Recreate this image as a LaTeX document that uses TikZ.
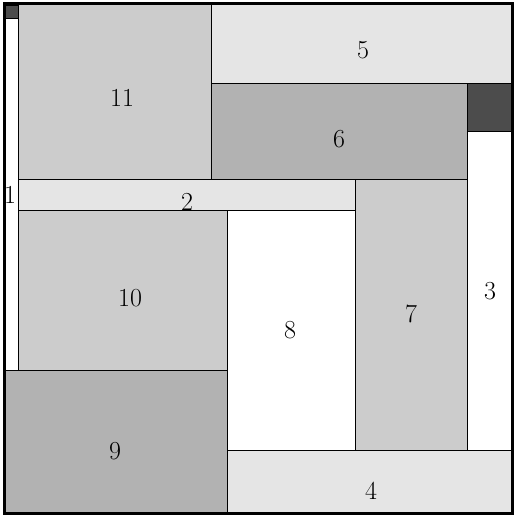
\documentclass[tikz,border=0pt]{standalone}
\begin{document}
\begin{tikzpicture}[x=1pt,y=-1pt,
  tile/.style={draw=black,line width=1pt},
  lt/.style={tile,fill=black!10},
  md/.style={tile,fill=black!20},
  dk/.style={tile,fill=black!30},
  vd/.style={tile,fill=black!70},
  wh/.style={tile,fill=white},
  lbl/.style={inner sep=0pt,font=\fontsize{26}{30}\selectfont}]
\useasboundingbox (0,0) rectangle (528,517);
% tiles
\path[md] (18.5,3.5) rectangle (211,179);
\path[lt] (211,3.5) rectangle (512.5,83);
\path[dk] (211,83) rectangle (467,179);
\path[wh] (467,131) rectangle (512.5,450);
\path[vd] (467,83) rectangle (511,131);
\path[lt] (18.5,179) rectangle (355,210.5);
\path[md] (355,179) rectangle (467,450);
\path[md] (18.5,210.5) rectangle (227,370.5);
\path[wh] (227,210.5) rectangle (355,450);
\path[dk] (4,370.5) rectangle (227,513);
\path[lt] (227,450) rectangle (512.5,513);
\path[wh] (5.5,18.5) rectangle (18.5,370.5);
\path[vd] (5.5,5.5) rectangle (18.5,18.5);
% outer frame
\draw[line width=3pt] (4,3.5) rectangle (512.5,513);
% labels
\node[lbl] (n11) at (122,98) {11};
\node[lbl] (n5) at (363,50) {5};
\node[lbl] (n6) at (339,139) {6};
\node[lbl] (n1) at (10,195) {1};
\node[lbl] (n2) at (187,202) {2};
\node[lbl] (n10) at (130,298) {10};
\node[lbl] (n8) at (290,330) {8};
\node[lbl] (n7) at (411,314) {7};
\node[lbl] (n3) at (490,291) {3};
\node[lbl] (n9) at (115,451) {9};
\node[lbl] (n4) at (371,491) {4};
\end{tikzpicture}
\end{document}
